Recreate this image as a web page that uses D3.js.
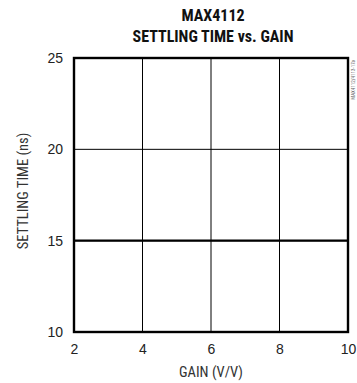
<!DOCTYPE html>
<html>
<head>
<meta charset="utf-8">
<script src="https://cdn.jsdelivr.net/npm/d3@7"></script>
<style>
  body { margin: 0; background: #fff; }
  svg { display: block; font-family: "Liberation Sans Narrow", "Arial Narrow", "Roboto Condensed", sans-serif; }
  .tick text { font-size: 14px; fill: #222; }
  .title { font-size: 16px; font-weight: bold; fill: #111; }
  .axis-label { font-size: 14.5px; fill: #333; }
</style>
</head>
<body>
<svg id="chart" width="357" height="383"></svg>
<script>
const gainValues = [2, 4, 6, 8, 10];
const settlingValues = [15, 15, 15, 15, 15];
const xTicks = [2, 4, 6, 8, 10];
const yTicks = [10, 15, 20, 25];

const margin = { top: 58, right: 9, bottom: 51, left: 74 },
    width = 357 - margin.left - margin.right,
    height = 383 - margin.top - margin.bottom;

const svg = d3.select("#chart");
const g = svg.append("g")
    .attr("transform", `translate(${margin.left},${margin.top})`);

const x = d3.scaleLinear().domain([2, 10]).range([0, width]);
const y = d3.scaleLinear().domain([10, 25]).range([height, 0]);

// grid
g.selectAll("line.vgrid")
    .data(xTicks.slice(1, -1))
    .enter().append("line")
    .attr("x1", d => x(d)).attr("x2", d => x(d))
    .attr("y1", 0).attr("y2", height)
    .attr("stroke", "#000").attr("stroke-width", 1);

g.selectAll("line.hgrid")
    .data(yTicks.slice(1, -1))
    .enter().append("line")
    .attr("x1", 0).attr("x2", width)
    .attr("y1", d => y(d)).attr("y2", d => y(d))
    .attr("stroke", "#000").attr("stroke-width", 1);

// axes (labels only)
g.append("g")
    .attr("transform", `translate(0,${height})`)
    .call(d3.axisBottom(x).tickValues(xTicks).tickSize(0).tickPadding(12))
    .call(a => a.select(".domain").remove());

g.append("g")
    .call(d3.axisLeft(y).tickValues(yTicks).tickSize(0).tickPadding(11))
    .call(a => a.select(".domain").remove());

// data line
const line = d3.line().x((d, i) => x(gainValues[i])).y(d => y(d));
g.append("path")
    .datum(settlingValues)
    .attr("d", line)
    .attr("fill", "none")
    .attr("stroke", "#000")
    .attr("stroke-width", 2.2);

// frame
g.append("rect")
    .attr("x", 0).attr("y", 0)
    .attr("width", width).attr("height", height)
    .attr("fill", "none")
    .attr("stroke", "#000")
    .attr("stroke-width", 2.4);

// titles
svg.append("text")
    .attr("class", "title")
    .attr("text-anchor", "middle")
    .attr("x", 213).attr("y", 21)
    .text("MAX4112");

svg.append("text")
    .attr("class", "title")
    .attr("text-anchor", "middle")
    .attr("x", 213).attr("y", 42)
    .text("SETTLING TIME vs. GAIN");

svg.append("text")
    .attr("class", "axis-label")
    .attr("text-anchor", "middle")
    .attr("x", margin.left + width / 2)
    .attr("y", 377)
    .text("GAIN (V/V)");

svg.append("text")
    .attr("class", "axis-label")
    .attr("text-anchor", "middle")
    .attr("transform", "translate(28,191) rotate(-90)")
    .text("SETTLING TIME (ns)");

svg.append("text")
    .attr("text-anchor", "end")
    .attr("transform", "translate(355,60) rotate(-90)")
    .style("font-size", "5px")
    .style("fill", "#666")
    .text("MAX4112/4113-17a");
</script>
</body>
</html>
